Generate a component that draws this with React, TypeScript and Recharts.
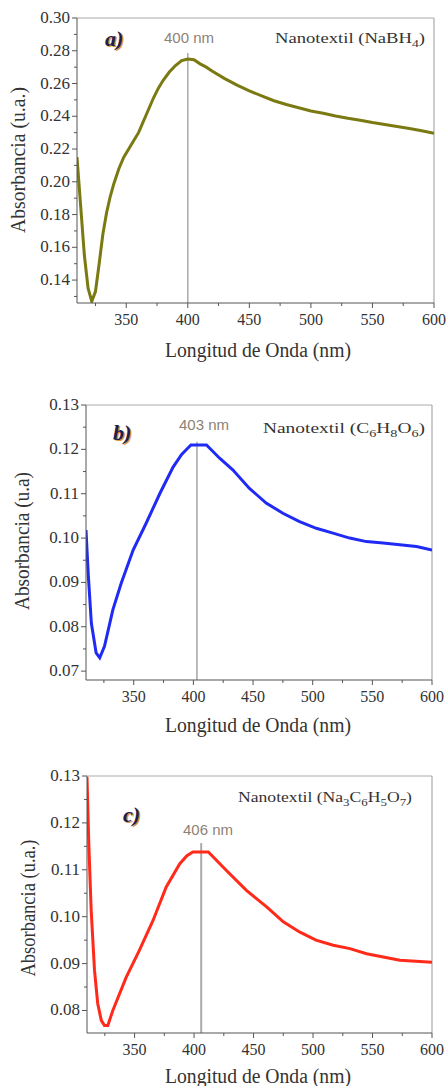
import { LineChart, Line, XAxis, YAxis, ReferenceLine } from 'recharts';

// wavelength (nm) / absorbance
const aWave = [310, 313, 316, 319, 322, 325, 328, 331, 334, 337, 340, 344, 348, 352, 356, 360, 364, 368, 372, 376, 380, 385, 390, 395, 400, 405, 410, 415, 420, 430, 440, 450, 460, 470, 480, 490, 500, 510, 520, 530, 540, 550, 560, 570, 580, 590, 600];
const aAbs = [0.215, 0.185, 0.155, 0.135, 0.127, 0.133, 0.150, 0.168, 0.181, 0.191, 0.199, 0.208, 0.215, 0.220, 0.225, 0.230, 0.237, 0.244, 0.251, 0.257, 0.262, 0.267, 0.271, 0.274, 0.275, 0.2745, 0.272, 0.270, 0.2675, 0.263, 0.259, 0.2555, 0.2525, 0.2495, 0.2472, 0.2452, 0.2432, 0.2418, 0.2402, 0.2388, 0.2376, 0.2362, 0.2350, 0.2338, 0.2325, 0.2312, 0.2296];

const bWave = [310, 312, 314.5, 318.5, 321.5, 325.5, 332.5, 339.5, 349.5, 360.5, 372, 383, 390, 395, 398, 411, 422, 433, 447, 461, 475, 489, 503, 517, 531, 545, 559, 573, 587, 600];
const bAbs = [0.1018, 0.0913, 0.0808, 0.0741, 0.0730, 0.0756, 0.0838, 0.0898, 0.0973, 0.1034, 0.1101, 0.1160, 0.1188, 0.1202, 0.1210, 0.1210, 0.1180, 0.1154, 0.1112, 0.1079, 0.1056, 0.1037, 0.1022, 0.1011, 0.1000, 0.0992, 0.0989, 0.0985, 0.0981, 0.0973];

const cWave = [310, 311.5, 313.5, 316.3, 319, 322, 324.7, 327.5, 331.7, 343, 354, 365.5, 376.5, 388, 394, 399, 412, 427, 444, 461, 475, 489, 502.5, 517, 531, 545, 559, 573, 600];
const cAbs = [0.1298, 0.1156, 0.1014, 0.0886, 0.0815, 0.0779, 0.0768, 0.0768, 0.0800, 0.0871, 0.0928, 0.0992, 0.1063, 0.1113, 0.1130, 0.1138, 0.1138, 0.1099, 0.1056, 0.1021, 0.0989, 0.0967, 0.0950, 0.0939, 0.0932, 0.0921, 0.0914, 0.0907, 0.0903];

const xMajor = [350, 400, 450, 500, 550, 600];
const xMinor = [325, 375, 425, 475, 525, 575];

const aYMajor = [0.14, 0.16, 0.18, 0.20, 0.22, 0.24, 0.26, 0.28, 0.30];
const aYMinor = [0.13, 0.15, 0.17, 0.19, 0.21, 0.23, 0.25, 0.27, 0.29];
const bYMajor = [0.07, 0.08, 0.09, 0.10, 0.11, 0.12, 0.13];
const bYMinor = [0.075, 0.085, 0.095, 0.105, 0.115, 0.125];
const cYMajor = [0.08, 0.09, 0.10, 0.11, 0.12, 0.13];
const cYMinor = [0.085, 0.095, 0.105, 0.115, 0.125];

const serif = '"Liberation Serif", "Times New Roman", serif';
const sans = '"Liberation Sans", Arial, sans-serif';
const axisColor = '#555';

const isMajor = (list: number[], v: number) => list.some((m) => Math.abs(m - v) < 1e-9);

const YTick = (props: any) => {
  const { x, y, payload, majors } = props;
  const major = isMajor(majors, payload.value);
  return (
    <g>
      <line x1={x - (major ? 5 : 3)} x2={x} y1={y} y2={y} stroke={axisColor} />
      {major && (
        <text x={x - 7} y={y} dy={5} textAnchor="end" fontFamily={serif} fontSize={17} fill="#333">
          {payload.value.toFixed(2)}
        </text>
      )}
    </g>
  );
};

const XTick = (props: any) => {
  const { x, y, payload } = props;
  const major = isMajor(xMajor, payload.value);
  return (
    <g>
      <line x1={x} x2={x} y1={y} y2={y + (major ? 5 : 3)} stroke={axisColor} />
      {major && (
        <text x={x} y={y} dy={22} textAnchor="middle" fontFamily={serif} fontSize={16} fill="#333">
          {payload.value}
        </text>
      )}
    </g>
  );
};

// formula text with subscripts; parts alternate normal / subscript
const Formula = ({ x, y, parts, width }: { x: number; y: number; parts: [string, boolean][]; width: number }) => {
  let prevSub = false;
  return (
    <text x={x} y={y} fontFamily={serif} fontSize={15} fill="#333" textLength={width} lengthAdjust="spacingAndGlyphs">
      {parts.map(([t, sub], i) => {
        const dy = sub === prevSub ? 0 : sub ? 4 : -4;
        prevSub = sub;
        return (
          <tspan key={i} dy={dy} fontSize={sub ? 11 : 15}>
            {t}
          </tspan>
        );
      })}
    </text>
  );
};

const Tag = ({ x, y, label }: { x: number; y: number; label: string }) => (
  <g fontFamily={serif} fontSize={22} fontWeight="bold" fontStyle="italic">
    <text x={x + 1.5} y={y + 1} fill="#e0903a">{label}</text>
    <text x={x} y={y} fill="#1c2050">{label}</text>
  </g>
);

interface PanelProps {
  top: number;
  height: number;
  margin: { top: number; right: number; bottom: number; left: number };
  wave: number[];
  abs: number[];
  color: string;
  yDomain: [number, number];
  yMajor: number[];
  yMinor: number[];
  yTitle: string;
  yTitlePos: [number, number];
  yTitleLen: number;
  xTitleY: number;
  peak: number;
  peakTop: number;
  peakStroke: string;
  peakWidth: number;
  peakLabelPos: [number, number];
  tag: string;
  tagPos: [number, number];
  formula: [string, boolean][];
  formulaPos: [number, number];
  formulaWidth: number;
}

const Panel = (p: PanelProps) => {
  const data = p.wave.map((w, i) => ({ w, v: p.abs[i] }));
  return (
    <div style={{ position: 'absolute', left: 0, top: p.top }}>
      <LineChart width={448} height={p.height} data={data} margin={p.margin}>
        <XAxis
          dataKey="w"
          type="number"
          domain={[310, 600]}
          ticks={[...xMajor, ...xMinor]}
          interval={0}
          tickSize={0}
          tickMargin={0}
          height={30}
          stroke={axisColor}
          tick={<XTick />}
          allowDataOverflow
        />
        <YAxis
          type="number"
          domain={p.yDomain}
          ticks={[...p.yMajor, ...p.yMinor]}
          interval={0}
          tickSize={0}
          tickMargin={0}
          width={40}
          stroke={axisColor}
          tick={(t: any) => <YTick {...t} majors={p.yMajor} />}
          allowDataOverflow
        />
        <ReferenceLine y={p.yDomain[1]} stroke="#aaa" />
        <ReferenceLine x={600} stroke="#999" />
        <ReferenceLine
          segment={[
            { x: p.peak, y: p.yDomain[0] },
            { x: p.peak, y: p.peakTop },
          ]}
          stroke={p.peakStroke}
          strokeWidth={p.peakWidth}
        />
        <Line
          dataKey="v"
          type="linear"
          stroke={p.color}
          strokeWidth={3}
          dot={false}
          isAnimationActive={false}
        />
        <Tag x={p.tagPos[0]} y={p.tagPos[1]} label={p.tag} />
        <text x={p.peakLabelPos[0]} y={p.peakLabelPos[1]} textAnchor="middle" fontFamily={sans} fontSize={15} fill="#8d8275">
          {`${p.peak} nm`}
        </text>
        <Formula x={p.formulaPos[0]} y={p.formulaPos[1]} parts={p.formula} width={p.formulaWidth} />
        <text
          x={p.yTitlePos[0]}
          y={p.yTitlePos[1]}
          transform={`rotate(-90 ${p.yTitlePos[0]} ${p.yTitlePos[1]})`}
          textAnchor="middle"
          dominantBaseline="central"
          fontFamily={serif}
          fontSize={20}
          fill="#333"
          textLength={p.yTitleLen}
          lengthAdjust="spacingAndGlyphs"
        >
          {p.yTitle}
        </text>
        <text
          x={258}
          y={p.xTitleY}
          textAnchor="middle"
          fontFamily={serif}
          fontSize={20}
          fill="#333"
          textLength={186}
          lengthAdjust="spacingAndGlyphs"
        >
          Longitud de Onda (nm)
        </text>
      </LineChart>
    </div>
  );
};

export default function App() {
  return (
    <div style={{ position: 'absolute', left: 0, top: 0, width: 448, height: 1086, background: '#fff' }}>
      <Panel
        top={0}
        height={370}
        margin={{ top: 18, right: 14, bottom: 37, left: 37 }}
        wave={aWave}
        abs={aAbs}
        color="#7b7a12"
        yDomain={[0.126, 0.3]}
        yMajor={aYMajor}
        yMinor={aYMinor}
        yTitle="Absorbancia (u.a.)"
        yTitlePos={[18, 160]}
        yTitleLen={146}
        xTitleY={357}
        peak={400}
        peakTop={0.2786}
        peakStroke="#aaa"
        peakWidth={1.5}
        peakLabelPos={[189, 43]}
        tag="a)"
        tagPos={[105, 46]}
        formula={[["Nanotextil (NaBH", false], ["4", true], [")", false]]}
        formulaPos={[275, 43]}
        formulaWidth={150}
      />
      <Panel
        top={370}
        height={370}
        margin={{ top: 35, right: 16, bottom: 30, left: 46 }}
        wave={bWave}
        abs={bAbs}
        color="#1f2bf5"
        yDomain={[0.068, 0.13]}
        yMajor={bYMajor}
        yMinor={bYMinor}
        yTitle="Absorbancia (u.a)"
        yTitlePos={[22, 171]}
        yTitleLen={138}
        xTitleY={362}
        peak={403}
        peakTop={0.1217}
        peakStroke="#777"
        peakWidth={1}
        peakLabelPos={[204, 60]}
        tag="b)"
        tagPos={[113, 70]}
        formula={[["Nanotextil (C", false], ["6", true], ["H", false], ["8", true], ["O", false], ["6", true], [")", false]]}
        formulaPos={[263, 63]}
        formulaWidth={162}
      />
      <Panel
        top={740}
        height={346}
        margin={{ top: 36, right: 16, bottom: 23, left: 47 }}
        wave={cWave}
        abs={cAbs}
        color="#ff2a1a"
        yDomain={[0.0752, 0.13]}
        yMajor={cYMajor}
        yMinor={cYMinor}
        yTitle="Absorbancia (u.a.)"
        yTitlePos={[28, 168]}
        yTitleLen={137}
        xTitleY={343}
        peak={406}
        peakTop={0.1157}
        peakStroke="#aaa"
        peakWidth={2}
        peakLabelPos={[208, 95]}
        tag="c)"
        tagPos={[123, 82]}
        formula={[["Nanotextil (Na", false], ["3", true], ["C", false], ["6", true], ["H", false], ["5", true], ["O", false], ["7", true], [")", false]]}
        formulaPos={[238, 62]}
        formulaWidth={174}
      />
    </div>
  );
}
